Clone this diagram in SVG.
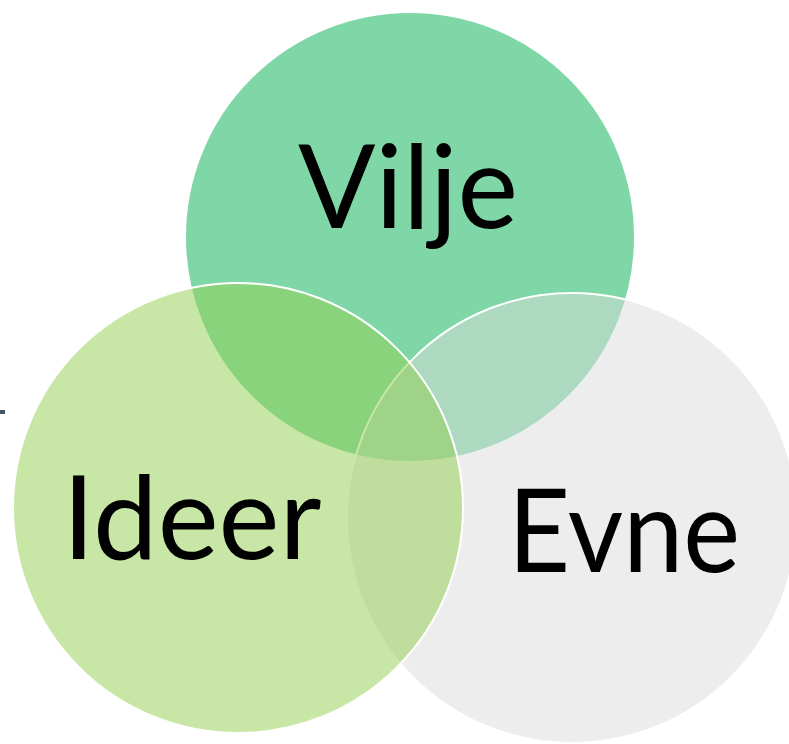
<svg xmlns="http://www.w3.org/2000/svg" width="789" height="744" viewBox="0 0 789 744">
<style>
.c{stroke:#FFFFFF;stroke-width:2;fill-opacity:0.5}
.t{font-family:Lato,"Liberation Sans",sans-serif;font-size:116px;fill:#000000;text-anchor:middle}
</style>
<rect x="0" y="0" width="789" height="744" fill="#FFFFFF"/>
<rect x="0" y="410" width="5" height="4" fill="#44546A"/>
<g id="vilje">
<circle class="c" cx="410" cy="237" r="225" fill="#00B050"/>
</g>
<g id="evne">
<circle class="c" cx="572" cy="518" r="225" fill="#DBDBDB"/>
</g>
<g id="ideer">
<circle class="c" cx="238" cy="508" r="225" fill="#92D050"/>
</g>
<g id="labels">
<text class="t" x="408" y="228" textLength="220" lengthAdjust="spacingAndGlyphs">Vilje</text>
<text class="t" x="192" y="559" textLength="259" lengthAdjust="spacingAndGlyphs">Ideer</text>
<text class="t" x="624" y="572" textLength="232" lengthAdjust="spacingAndGlyphs">Evne</text>
</g>
<g id="connectors"></g>
</svg>
